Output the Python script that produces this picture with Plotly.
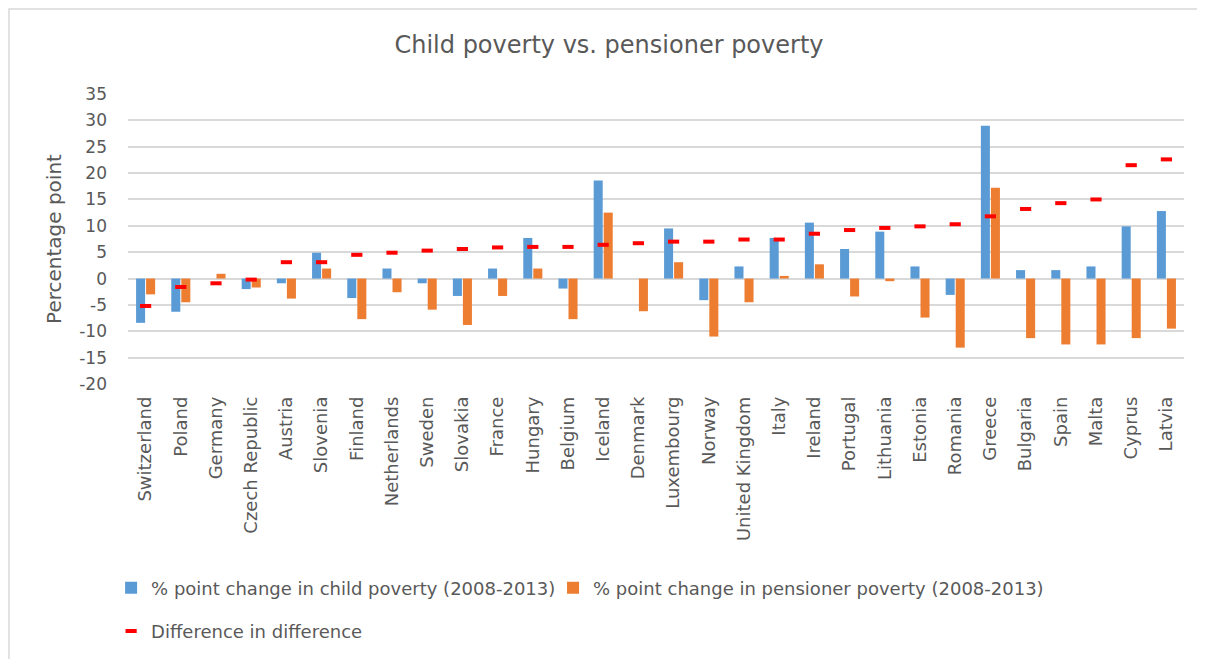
import plotly.graph_objects as go

countries = ["Switzerland", "Poland", "Germany", "Czech Republic", "Austria", "Slovenia",
             "Finland", "Netherlands", "Sweden", "Slovakia", "France", "Hungary", "Belgium",
             "Iceland", "Denmark", "Luxembourg", "Norway", "United Kingdom", "Italy", "Ireland",
             "Portugal", "Lithuania", "Estonia", "Romania", "Greece", "Bulgaria", "Spain",
             "Malta", "Cyprus", "Latvia"]

child_change = [-8.4, -6.3, 0.0, -2.0, -0.9, 4.9, -3.7, 1.9, -0.9, -3.3, 1.9, 7.7, -1.9,
                18.6, 0.0, 9.5, -4.1, 2.3, 7.7, 10.6, 5.6, 8.9, 2.3, -3.1, 29.0, 1.6, 1.6,
                2.3, 9.9, 12.8]

pensioner_change = [-3.0, -4.5, 0.9, -1.7, -3.8, 1.9, -7.7, -2.6, -5.9, -8.8, -3.3, 1.9, -7.7,
                    12.5, -6.2, 3.1, -11.0, -4.5, 0.5, 2.7, -3.4, -0.5, -7.4, -13.1, 17.2,
                    -11.3, -12.5, -12.5, -11.3, -9.5]

diff_in_diff = [-5.2, -1.6, -0.9, -0.2, 3.1, 3.1, 4.5, 4.9, 5.3, 5.6, 5.9, 6.0, 6.0, 6.4,
                6.7, 7.0, 7.0, 7.4, 7.4, 8.5, 9.2, 9.6, 9.9, 10.3, 11.8, 13.2, 14.3, 15.0,
                21.5, 22.6]

y_ticks = [-20, -15, -10, -5, 0, 5, 10, 15, 20, 25, 30, 35]
y_tick_labels = ["-20", "-15", "-10", "-5", "0", "5", "10", "15", "20", "25", "30", "35"]

FONT = "DejaVu Sans"
GREY = "#595959"

# page body adds an 8px offset; plot area in figure coords: x 120..1176, y 86..376
L, R, T, B = 120, 29, 86, 283
PW, PH = 1205 - L - R, 659 - T - B

fig = go.Figure()
fig.add_trace(go.Bar(x=countries, y=child_change,
                     name="% point change in child poverty (2008-2013)",
                     marker=dict(color="#5b9bd5", line=dict(width=0)), legend="legend"))
fig.add_trace(go.Bar(x=countries, y=pensioner_change,
                     name="% point change in pensioner poverty (2008-2013)",
                     marker=dict(color="#ed7d31", line=dict(width=0)), legend="legend2"))
fig.add_trace(go.Scatter(x=countries, y=diff_in_diff, mode="markers",
                         name="Difference in difference",
                         marker=dict(symbol="line-ew", size=8, color="#ff0000",
                                     line=dict(width=4, color="#ff0000")),
                         legend="legend3"))

legend_font = dict(family=FONT, size=18, color=GREY)
fig.update_layout(
    width=1205, height=659,
    margin=dict(l=L, r=R, t=T, b=B),
    paper_bgcolor="white", plot_bgcolor="white",
    font=dict(family=FONT, color=GREY, size=17),
    title=dict(text="Child poverty vs. pensioner poverty", x=601 / 1205, xref="container",
               y=1 - 37 / 659, yref="container", xanchor="center", yanchor="middle",
               font=dict(family=FONT, size=24, color=GREY)),
    barmode="group", bargap=0.43, bargroupgap=0.1,
    showlegend=True,
    legend=dict(orientation="h", x=-0.016, xanchor="left", y=-0.64, yanchor="top",
                font=legend_font, bgcolor="rgba(0,0,0,0)"),
    legend2=dict(orientation="h", x=0.4025, xanchor="left", y=-0.64, yanchor="top",
                 font=legend_font, bgcolor="rgba(0,0,0,0)"),
    legend3=dict(orientation="h", x=-0.016, xanchor="left", y=-0.789, yanchor="top",
                 font=legend_font, bgcolor="rgba(0,0,0,0)"),
    shapes=[dict(type="rect", xref="paper", yref="paper",
                 x0=(1 - L) / PW, x1=(1215 - L) / PW,
                 y0=(PH + T - 670) / PH, y1=(PH + T - 1) / PH,
                 line=dict(color="#d9d9d9", width=1.5), fillcolor="rgba(0,0,0,0)",
                 layer="below")],
)

fig.update_xaxes(type="category", range=[-0.5, len(countries) - 0.5], tickangle=-90,
                 showgrid=False, showline=False, ticks="", automargin=False,
                 tickfont=dict(family=FONT, size=18, color=GREY), ticklabelstandoff=8)
fig.update_yaxes(range=[-20, 35], tickvals=y_ticks, ticktext=y_tick_labels,
                 showgrid=True, gridcolor="#d9d9d9",
                 gridwidth=1.5, zeroline=True, zerolinecolor="#d9d9d9", zerolinewidth=1.5,
                 showline=False, ticks="", ticklabelstandoff=20, automargin=False,
                 tickfont=dict(family=FONT, size=17, color=GREY),
                 title=dict(text="Percentage point", font=dict(family=FONT, size=20, color=GREY),
                            standoff=12))

fig.write_html("out.html")
